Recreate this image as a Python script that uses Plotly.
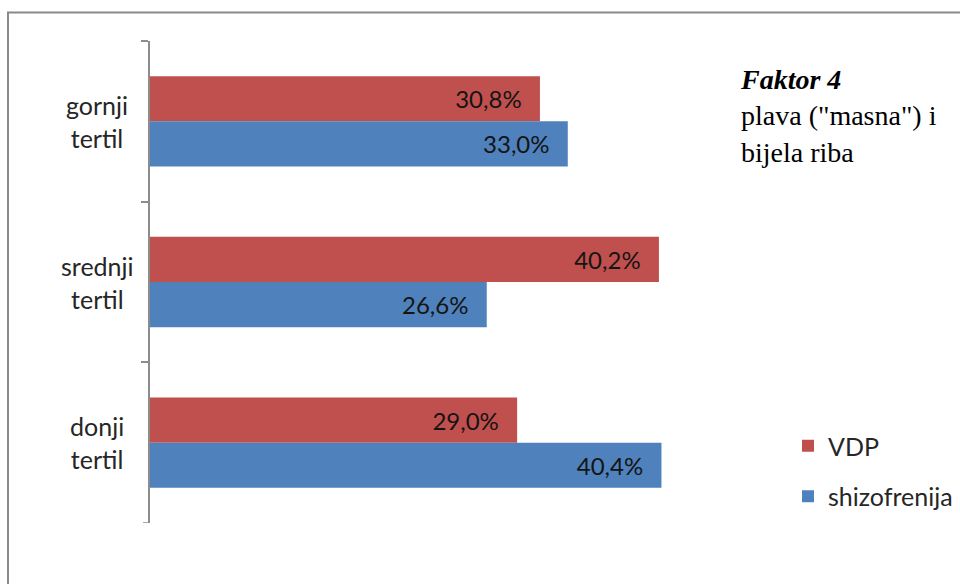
import plotly.graph_objects as go

# Tertile groups (top to bottom) and the share of each group per series
categories = ["gornji tertil", "srednji tertil", "donji tertil"]
category_labels = ["gornji<br>tertil", "srednji<br>tertil", "donji<br>tertil"]
vdp = [30.8, 40.2, 29.0]
shizofrenija = [33.0, 26.6, 40.4]

W, H = 960, 584
TEXT = "#262626"
AXIS = "#8c8c8c"


def fmt(v):
    # decimal comma, padded away from the bar end
    return f"{v:.1f}".replace(".", ",") + "%" + "\u00a0\u00a0\u2009"


fig = go.Figure()
fig.add_trace(go.Bar(
    y=categories, x=vdp, name="VDP", orientation="h",
    marker=dict(color="#C0504D", line=dict(width=0)),
    text=[fmt(v) for v in vdp], textposition="inside", insidetextanchor="end",
    textfont=dict(family="Lato", size=24, color="#141414"),
    constraintext="none", legendgroup="a", legendrank=1, hoverinfo="skip",
))
fig.add_trace(go.Bar(
    y=categories, x=shizofrenija, name="shizofrenija", orientation="h",
    marker=dict(color="#4F81BD", line=dict(width=0)),
    text=[fmt(v) for v in shizofrenija], textposition="inside", insidetextanchor="end",
    textfont=dict(family="Lato", size=24, color="#141414"),
    constraintext="none", legendgroup="b", legendrank=2, hoverinfo="skip",
))

# Category labels, centred as two-line blocks left of the axis
annotations = [
    dict(x=97 / W, xref="paper", y=c, yref="y", text=lab, showarrow=False,
         xanchor="center", yanchor="middle", align="center",
         font=dict(family="Lato", size=25, color=TEXT))
    for c, lab in zip(categories, category_labels)
]
annotations.append(dict(
    x=738 / W, xref="paper", y=1 - 62 / H, yref="paper",
    text="<b><i>Faktor 4</i></b><br>plava (\"masna\") i<br>bijela riba",
    showarrow=False, xanchor="left", yanchor="top", align="left",
    font=dict(family="Liberation Serif", size=28, color="#000000"),
))

fig.update_layout(
    width=W, height=H,
    margin=dict(l=0, r=0, t=0, b=0),
    paper_bgcolor="white", plot_bgcolor="white",
    barmode="group", bargap=0.4375, bargroupgap=0,
    xaxis=dict(domain=[150 / W, 783 / W], range=[0, 50], visible=False),
    yaxis=dict(
        domain=[1 - 523 / H, 1 - 41 / H],
        categoryorder="array", categoryarray=categories,
        range=[2.5, -0.5],
        showline=True, linecolor=AXIS, linewidth=1.5,
        ticks="outside", tickson="boundaries", ticklen=7, tickcolor=AXIS, tickwidth=1.5,
        showticklabels=False, showgrid=False, zeroline=False,
    ),
    showlegend=True,
    legend=dict(
        x=788 / W, y=1 - 423 / H, xanchor="left", yanchor="top",
        font=dict(family="Lato", size=25, color=TEXT),
        traceorder="grouped", tracegroupgap=15, bgcolor="rgba(0,0,0,0)",
    ),
    annotations=annotations,
    shapes=[
        dict(
            type="rect", xref="paper", yref="paper",
            x0=8 / W, x1=1.05, y0=-0.05, y1=1 - 12.5 / H,
            line=dict(color="#8a8a8a", width=2), layer="below",
        ),
        # closing tick at the lower end of the category axis
        dict(
            type="line", xref="paper", yref="y",
            x0=143 / W, x1=150 / W, y0=len(categories) - 0.5, y1=len(categories) - 0.5,
            line=dict(color=AXIS, width=1.5),
        ),
    ],
)

fig.write_html("out.html")
